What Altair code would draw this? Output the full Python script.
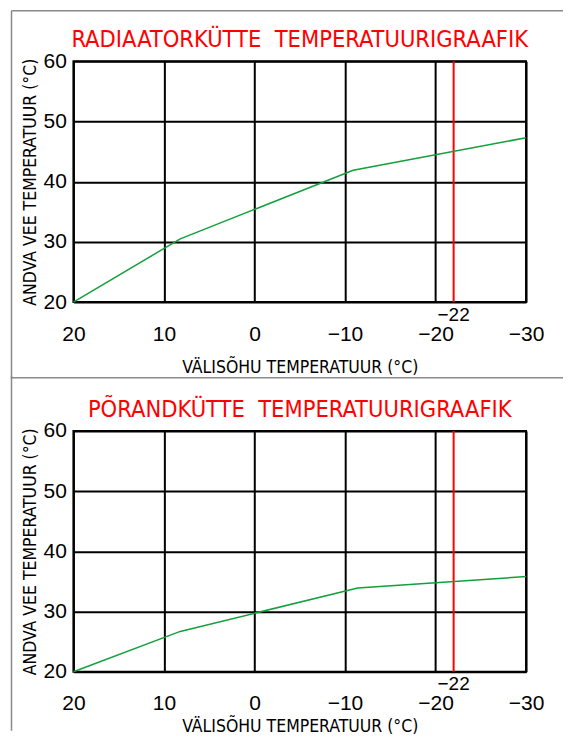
import altair as alt
import pandas as pd

# ---- data ----
x_ticks = [20, 10, 0, -10, -20, -30]
y_ticks = [20, 30, 40, 50, 60]

rad_outdoor = [20, 8.2, -10.9, -30]
rad_supply = [20, 30.5, 41.9, 47.3]

floor_outdoor = [20, 8.2, -11.4, -30]
floor_supply = [20, 26.7, 33.9, 35.8]

design_temp = [-22]

titles = ["RADIAATORKÜTTE\u00a0 TEMPERATUURIGRAAFIK", "PÕRANDKÜTTE\u00a0 TEMPERATUURIGRAAFIK"]
x_title = "VÄLISÕHU TEMPERATUUR (°C)"
y_title = "ANDVA VEE TEMPERATUUR (°C)"

NARROW = "DejaVu Sans Condensed"
SANS = "Liberation Sans"
GREEN = "#12a03c"
GRAY = "#8a8a8a"

W, H = 453, 241


def panel(outdoor, supply, title, first):
    xs = alt.Scale(domain=[20, -30], nice=False, zero=False)
    ys = alt.Scale(domain=[20, 60], nice=False, zero=False)
    xaxis = alt.Axis(values=x_ticks, grid=True, title=x_title, titleY=70 if first else 60,
                     titleBaseline="alphabetic", labelPadding=21, labelFlush=False,
                     labelOverlap=False)
    yaxis = alt.Axis(values=y_ticks, grid=True, title=y_title, titleX=-38, titleY=H / 2,
                     titleAngle=-90, titleBaseline="alphabetic", titleAlign="center",
                     labelPadding=7, labelFlush=False, labelOverlap=False)

    df = pd.DataFrame({"x": outdoor, "y": supply})
    line = alt.Chart(df).mark_line(color=GREEN, strokeWidth=1.5).encode(
        x=alt.X("x:Q", scale=xs, axis=xaxis),
        y=alt.Y("y:Q", scale=ys, axis=yaxis),
    )
    dd = pd.DataFrame({"x": design_temp})
    red = alt.Chart(dd).mark_rule(color="#ff0000", strokeWidth=2).encode(
        x=alt.X("x:Q", scale=xs)
    )
    red_lbl = alt.Chart(dd).mark_text(font=SANS, fontSize=19, color="black",
                                      baseline="alphabetic", align="center").encode(
        x=alt.X("x:Q", scale=xs),
        y=alt.value(H + 18.5),
        text=alt.Text("x:Q", format="d"),
    )
    tdf = pd.DataFrame({"t": [title]})
    ttl = alt.Chart(tdf).mark_text(font=NARROW, fontSize=23.5, color="#ff0000",
                                   baseline="alphabetic", align="center").encode(
        x=alt.value(W / 2), y=alt.value(-14.3), text="t:N"
    )
    fr = pd.DataFrame({"a": [0]})
    if first:
        hline = alt.Chart(fr).mark_rule(color=GRAY, strokeWidth=1.5).encode(
            x=alt.value(-62), x2=alt.value(490), y=alt.value(-50.5))
        vline = alt.Chart(fr).mark_rule(color=GRAY, strokeWidth=1.5).encode(
            x=alt.value(-62), y=alt.value(-50.5), y2=alt.value(318))
    else:
        hline = alt.Chart(fr).mark_rule(color=GRAY, strokeWidth=1.5).encode(
            x=alt.value(-62), x2=alt.value(490), y=alt.value(-53.3))
        vline = alt.Chart(fr).mark_rule(color=GRAY, strokeWidth=1.5).encode(
            x=alt.value(-62), y=alt.value(-55), y2=alt.value(300))
    layers = [hline, vline, red, line, red_lbl, ttl]
    return alt.layer(*layers).properties(width=W, height=H)


chart = alt.vconcat(
    panel(rad_outdoor, rad_supply, titles[0], True),
    panel(floor_outdoor, floor_supply, titles[1], False),
    spacing=129,
    bounds="flush",
).properties(
    padding={"left": 1.5, "top": 0, "right": 0, "bottom": 0},
    background="white",
).configure_view(
    stroke="black", strokeWidth=2
).configure_axis(
    domain=False, ticks=False, tickSize=0,
    gridColor="black", gridWidth=2, gridOpacity=1,
    labelFont=SANS, labelFontSize=21, labelColor="black",
    titleFont=NARROW, titleFontSize=17.5, titleFontWeight="normal", titleColor="black",
)

chart.save("out.html", embed_options={"renderer": "svg", "actions": False})
